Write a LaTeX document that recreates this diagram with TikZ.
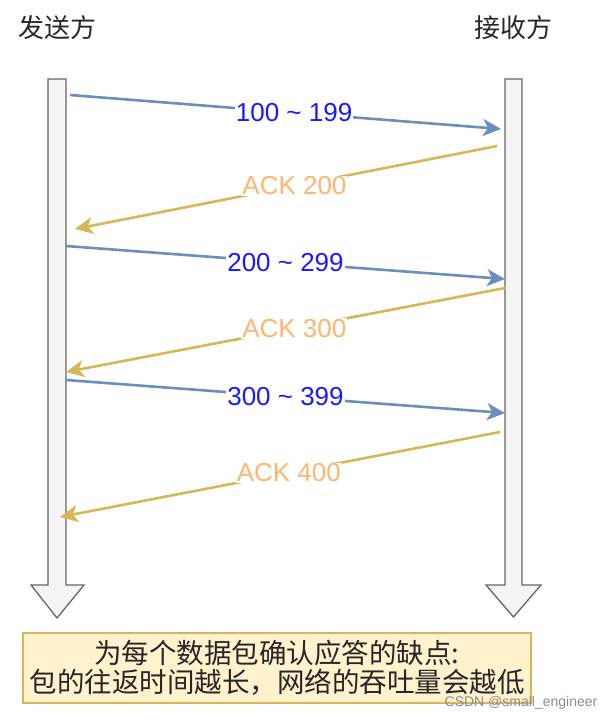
\documentclass[tikz,border=0pt]{standalone}
\usepackage{fontspec}
\setmainfont{Liberation Sans}
\newfontfamily\cjk{Noto Sans CJK SC}
\usetikzlibrary{arrows.meta}
\definecolor{seqblue}{HTML}{6C8EBF}
\definecolor{ackgold}{HTML}{D6B656}
\definecolor{lblblue}{HTML}{1A1AFF}
\definecolor{lblorange}{HTML}{FFB570}
\definecolor{notefill}{HTML}{FFF2CC}
\definecolor{lifefill}{HTML}{F5F5F5}
\definecolor{lifedraw}{HTML}{666666}
\tikzset{
  lifeline/.style={draw=lifedraw, fill=lifefill, line width=1.3pt, line join=miter},
  msg/.style={draw=seqblue, line width=2.6pt, -{Stealth[length=18pt,width=17pt,inset=5pt]}},
  ack/.style={draw=ackgold, line width=2.6pt, -{Stealth[length=18pt,width=17pt,inset=5pt]}},
  msglbl/.style={fill=white, inner sep=1pt, text=lblblue, font=\fontsize{26}{28}\selectfont},
  acklbl/.style={fill=white, inner sep=1pt, text=lblorange, font=\fontsize{26}{28}\selectfont},
  role/.style={font=\cjk\fontsize{26}{30}\selectfont, text=black!85, inner sep=0pt},
  note/.style={draw=ackgold, fill=notefill, line width=1.2pt, minimum width=508pt, minimum height=70pt, inner sep=0pt, align=center, font=\cjk\fontsize{27.5}{29.5}\selectfont, text=black!85},
}
\begin{document}
\begin{tikzpicture}[x=1pt,y=-1pt]
\useasboundingbox (0,0) rectangle (614,720);
% roles
\node[role] (snd) at (57,28) {发送方};
\node[role] (rcv) at (513,28) {接收方};
% lifelines
\draw[lifeline] (48,79) -- (66,79) -- (66,585) -- (84,585) -- (57,618) -- (31,585) -- (48,585) -- cycle;
\draw[lifeline] (505,79) -- (522,79) -- (522,585) -- (541,585) -- (513.5,617) -- (486,585) -- (505,585) -- cycle;
% endpoints
\coordinate (s1) at (70,95);   \coordinate (r1) at (501,129);
\coordinate (r2) at (497,146); \coordinate (s2) at (75,229);
\coordinate (s3) at (66,246);  \coordinate (r3) at (505,279);
\coordinate (r4) at (505,288); \coordinate (s4) at (66,372);
\coordinate (s5) at (66,380);  \coordinate (r5) at (505,413);
\coordinate (r6) at (500,432); \coordinate (s6) at (60,517);
% messages
\draw[msg] (s1) -- node[msglbl, pos=0.52] (l1) {100 \char`~{} 199} (r1);
\draw[ack] (r2) -- node[acklbl, pos=0.48] (l2) {ACK 200} (s2);
\draw[msg] (s3) -- node[msglbl, pos=0.5] (l3) {200 \char`~{} 299} (r3);
\draw[ack] (r4) -- node[acklbl, pos=0.48] (l4) {ACK 300} (s4);
\draw[msg] (s5) -- node[msglbl, pos=0.5] (l5) {300 \char`~{} 399} (r5);
\draw[ack] (r6) -- node[acklbl, pos=0.48] (l6) {ACK 400} (s6);
% note
\node[note] (nt) at (277,668) {\raisebox{-2pt}{为每个数据包确认应答的缺点:}\\\raisebox{-2pt}{包的往返时间越长，网络的吞吐量会越低}};
\node[font=\fontsize{14}{16}\selectfont, text=black!45, inner sep=0pt] (wm) at (521,703) {CSDN @small\_engineer};
\end{tikzpicture}
\end{document}
